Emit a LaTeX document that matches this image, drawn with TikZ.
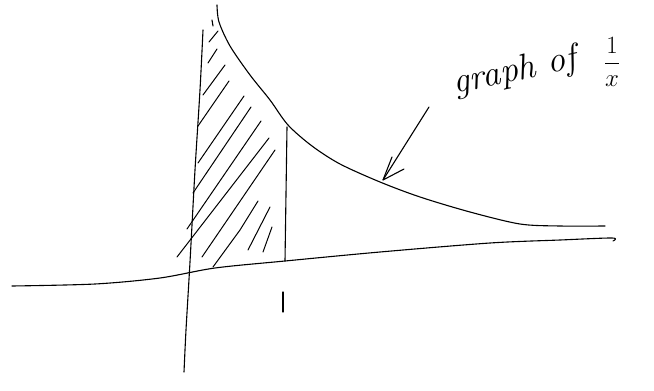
\documentclass[tikz,border=0pt]{standalone}
\usetikzlibrary{arrows.meta}
\begin{document}
\begin{tikzpicture}[x=1pt,y=-1pt,
  pen/.style={line width=1.1pt, line cap=round, line join=round, black},
  hatch/.style={pen, line width=1pt},
  handtext/.style={font=\fontsize{36}{40}\selectfont\itshape, inner sep=0pt},
  fractext/.style={font=\fontsize{25}{28}\selectfont, inner sep=0pt}]
\useasboundingbox (0,0) rectangle (654,391);
% axes
\draw[pen] plot[smooth] coordinates {(12,286) (95,284) (160,278) (215,268) (285,261) (380,252) (490,243) (560,240) (612,238) (613,241)};
\draw[pen] plot[smooth] coordinates {(203,30) (200,90) (195,170) (190,262) (186,330) (184,372)};
\draw[pen] (212,20) -- (213,26);
% graph of 1/x
\draw[pen] plot[smooth] coordinates {(217,5) (219,22) (230,46) (250,75) (270,100) (288,125) (312,146) (340,164) (380,182) (420,197) (470,212) (520,224) (560,226) (605,226)};
% vertical line at 1 and tick
\coordinate (top1) at (287,127);
\coordinate (bot1) at (285,261);
\draw[pen] (top1) -- (bot1);
\coordinate (tickA) at (283,292);
\coordinate (tickB) at (283,312);
\draw[pen] (tickA) -- (tickB);
% hatching
\draw[hatch] (209,42) -- (218,31);
\draw[hatch] (208,63) -- (217,49);
\draw[hatch] (203,95) -- (225,65);
\draw[hatch] (198,126) -- (229,81);
\draw[hatch] (198,163) -- (244,96);
\draw[hatch] (193,193) -- (251,107);
\draw[hatch] (187,229) -- (261,121);
\draw[hatch] (177,257) -- (269,138);
\draw[hatch] (202,257) -- (275,150);
\draw[hatch] (213,267) -- (240,230) -- (258,201);
\draw[hatch] (248,250) -- (270,207);
\draw[hatch] (263,252) -- (272,227);
% label and arrow
\node[handtext, rotate=12] (lab) at (515,72) {graph of};
\node[fractext] (frac) at (612,62) {$\displaystyle\frac{1}{x}$};
\coordinate (arrS) at (429,107);
\coordinate (arrE) at (383,180);
\draw[pen] (arrS) -- (arrE);
\draw[pen] (392,157) -- (arrE) -- (404,169);
\end{tikzpicture}
\end{document}
